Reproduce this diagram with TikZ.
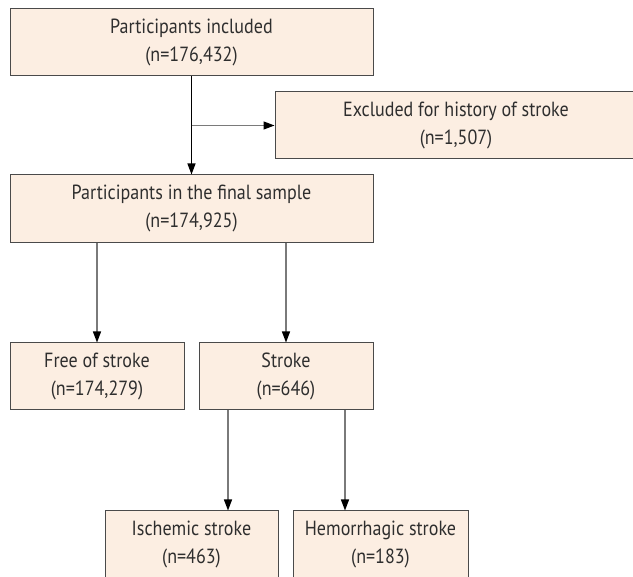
\documentclass[tikz,border=0pt]{standalone}
\usepackage{fontspec}
\setmainfont[FakeStretch=0.88]{PT Sans}
\usetikzlibrary{arrows.meta,calc}
\definecolor{boxfill}{HTML}{FCEEE2}
\definecolor{boxline}{HTML}{4A4A4A}
\definecolor{conn}{HTML}{7A7A7A}
\definecolor{txt}{HTML}{2E2E2E}
\begin{document}
\begin{tikzpicture}[x=1pt,y=-1pt,
  box/.style={draw=boxline,line width=1pt,fill=boxfill,text=txt,inner sep=0pt,
    align=center,font=\fontsize{20.5}{28}\selectfont,minimum height=67pt},
  arr/.style={draw=conn,line width=1.3pt,-{Triangle[length=11pt,width=8pt,color=black]}}]
\useasboundingbox (0,0) rectangle (633,577);
\clip (0,0) rectangle (633,577);
\node[box,minimum width=363pt] (inc) at (191.5,42.5) {Participants included\\(n=176,432)};
\node[box,minimum width=362pt] (exc) at (456,125.5) {Excluded for history of stroke\\(n=1,507)};
\node[box,minimum width=363pt,minimum height=68pt] (fin) at (191.5,209) {Participants in the final sample\\(n=174,925)};
\node[box,minimum width=174pt] (free) at (97,376.5) {Free of stroke\\(n=174,279)};
\node[box,minimum width=174pt] (str) at (286,376.5) {Stroke\\(n=646)};
\node[box,minimum width=173pt] (isc) at (191.5,544.5) {Ischemic stroke\\(n=463)};
\node[box,minimum width=175pt] (hem) at (380.5,544.5) {Hemorrhagic stroke\\(n=183)};
\draw[arr,draw=black] (inc) -- (fin);
\coordinate (br) at (inc.south |- exc.west);
\draw[arr] (br) -- (exc.west);
\draw[arr] (fin.south -| free.north) -- (free.north);
\draw[arr] (fin.south -| str.north) -- (str.north);
\draw[arr] ([xshift=-58pt]str.south) -- ([xshift=-58pt]str.south |- isc.north);
\draw[arr] ([xshift=59pt]str.south) -- ([xshift=59pt]str.south |- hem.north);
\end{tikzpicture}
\end{document}
